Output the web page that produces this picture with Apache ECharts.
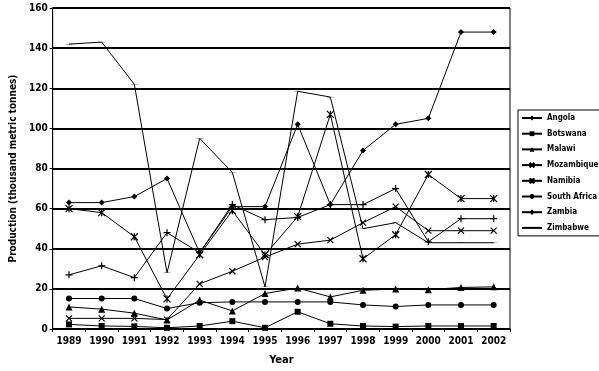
<!DOCTYPE html>
<html><head><meta charset="utf-8">
<script src="https://cdn.jsdelivr.net/npm/echarts@6/dist/echarts.min.js"></script>
<style>html,body{margin:0;padding:0;background:#fff}#c{width:599px;height:371px}</style>
</head><body><div id="c"></div>
<script>
var years = ['1989','1990','1991','1992','1993','1994','1995','1996','1997','1998','1999','2000','2001','2002'];
var angola = [63,63,66,75,38,61,61,102,62,89,102,105,148,148];
var botswana = [2.3,1.5,1.3,0.6,1.5,3.9,0.6,8.6,2.6,1.5,1.2,1.5,1.5,1.5];
var malawi = [11,9.9,7.9,4.5,14.4,9,17.7,20.4,16,19.3,19.9,19.6,20.7,21];
var mozambique = [5.3,5.3,5.3,4.7,22.5,28.8,35.8,42.3,44.3,53,61,49,49,49];
var namibia = [60,58,46,15,37,59,37,56,107,35,47,77,65,65];
var southAfrica = [15.2,15.2,15.2,10.2,13.1,13.5,13.5,13.5,13.5,12,11.2,12,12,12];
var zambia = [27,31.5,25.6,48,38,62,54.5,55.6,62,62,70,43.5,55,55];
var zimbabwe = [142,143,122,28,95,78,21,118.5,115.6,50,53,43,43,43];

var F = "'DejaVu Sans Condensed','Liberation Sans Narrow',sans-serif";
var xPath = 'path://M0,0L10,10M10,0L0,10';
var starPath = 'path://M0,0L10,10M10,0L0,10M5,0L5,10';
var plusPath = 'path://M5,0L5,10M0,5L10,5';
var dashPath = 'path://M0,0L10,0L10,2L0,2Z';
function S(name, data, symbol, size) {
  var isStroke = symbol === xPath || symbol === starPath || symbol === plusPath;
  return {
    name: name, type: 'line', data: data, symbol: symbol, symbolSize: size,
    symbolKeepAspect: true,
    showSymbol: true, animation: false,
    lineStyle: {color: '#000', width: 1},
    itemStyle: {color: '#000', borderColor: '#000', borderWidth: (isStroke ? 1.2 : 0)}
  };
}
var chart = echarts.init(document.getElementById('c'));
chart.setOption({
  animation: false,
  backgroundColor: '#fff',
  grid: {left: 42, right: 89, top: 8, bottom: 34, show: true, borderColor: '#000', borderWidth: 1},
  legend: {
    orient: 'vertical', left: 518, top: 110,
    padding: [3, 3, 3, 3], itemWidth: 20, itemHeight: 6, itemGap: 5.7,
    borderColor: '#000', borderWidth: 1,
    textStyle: {fontFamily: F, fontWeight: 'bold', fontSize: 8, lineHeight: 10, color: '#000'},
    data: ['Angola','Botswana','Malawi','Mozambique','Namibia','South Africa','Zambia',
           {name: 'Zimbabwe', itemStyle: {opacity: 0}}]
  },
  xAxis: {
    type: 'category', data: years, boundaryGap: true,
    name: 'Year', nameLocation: 'middle', nameGap: 26,
    nameTextStyle: {fontFamily: F, fontWeight: 'bold', fontSize: 11, color: '#000'},
    axisLine: {lineStyle: {color: '#000', width: 1}},
    axisTick: {show: true, length: 3, lineStyle: {color: '#000'}},
    axisLabel: {fontFamily: F, fontWeight: 'bold', fontSize: 10, color: '#000', margin: 7},
    splitLine: {show: false}
  },
  yAxis: {
    type: 'value', min: 0, max: 160, interval: 20,
    name: 'Production (thousand metric tonnes)', nameLocation: 'middle', nameGap: 30,
    nameTextStyle: {fontFamily: F, fontWeight: 'bold', fontSize: 10, color: '#000'},
    axisLine: {show: true, lineStyle: {color: '#000', width: 1}},
    axisTick: {show: true, length: 3, lineStyle: {color: '#000'}},
    axisLabel: {fontFamily: F, fontWeight: 'bold', fontSize: 10, color: '#000', margin: 5},
    splitLine: {show: true, lineStyle: {color: '#000', width: 2}}
  },
  series: [
    S('Angola', angola, 'diamond', 6),
    S('Botswana', botswana, 'rect', 6),
    S('Malawi', malawi, 'triangle', 7),
    S('Mozambique', mozambique, xPath, 6),
    S('Namibia', namibia, starPath, 7),
    S('South Africa', southAfrica, 'circle', 6),
    S('Zambia', zambia, plusPath, 7),
    S('Zimbabwe', zimbabwe, dashPath, [7, 1.5])
  ]
});
</script></body></html>
